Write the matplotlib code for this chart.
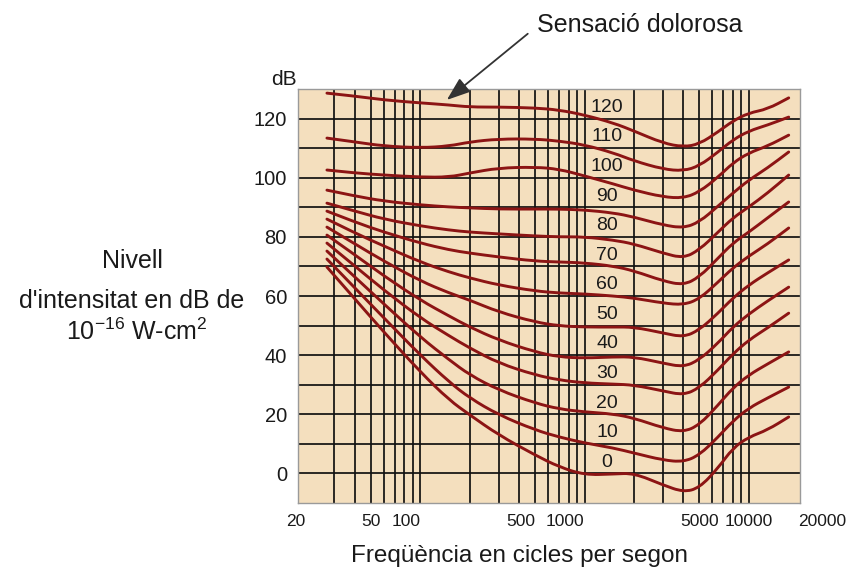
import numpy as np
import matplotlib
matplotlib.use("Agg")
import matplotlib.pyplot as plt
from matplotlib.path import Path
from matplotlib.patches import PathPatch

plt.rcParams['font.family'] = ['Liberation Sans', 'DejaVu Sans']
plt.rcParams['mathtext.default'] = 'regular'

freqs = [27, 40, 60, 100, 150, 200, 300, 500, 700, 1000, 1500, 2000,
         3000, 4000, 5000, 6500, 8000, 10000, 13000, 17500]

# intensity level (dB) of each curve, keyed by loudness level
levels = [0, 10, 20, 30, 40, 50, 60, 70, 80, 90, 100, 110, 120]
curve_0 = [69.8, 59.0, 47.8, 34.3, 24.8, 19.8, 13.0, 6.2, 2.2, -0.5, -0.2, 0.1,
           -3.9, -6.3, -4.9, 1.8, 8.6, 12.3, 14.7, 19.1]
curve_10 = [72.5, 62.7, 52.6, 40.0, 30.9, 25.5, 19.8, 14.7, 12.3, 10.3, 8.6, 6.9,
            4.5, 3.9, 6.2, 12.3, 17.7, 22.1, 25.5, 29.2]
curve_20 = [75.2, 66.4, 57.3, 46.1, 38.4, 33.3, 28.2, 23.8, 21.8, 20.8, 20.1, 18.7,
            15.4, 14.0, 16.4, 23.1, 28.9, 33.3, 37.0, 41.1]
curve_30 = [77.9, 70.1, 62.0, 52.6, 46.5, 42.4, 37.3, 33.3, 31.6, 30.6, 30.2, 29.9,
            27.9, 26.5, 28.9, 35.0, 40.4, 45.1, 49.2, 54.2]
curve_40 = [80.6, 73.9, 66.8, 58.6, 53.2, 49.5, 45.1, 41.1, 39.4, 39.0, 39.4, 39.4,
            37.3, 36.0, 38.4, 44.1, 49.5, 53.9, 58.3, 63.0]
curve_50 = [83.3, 77.6, 71.8, 65.1, 61.0, 58.6, 54.6, 51.2, 49.9, 49.5, 49.5, 49.5,
            47.5, 46.1, 48.5, 54.2, 59.3, 63.7, 67.8, 72.2]
curve_60 = [86.0, 81.3, 76.9, 71.5, 68.1, 66.1, 63.7, 61.7, 61.0, 60.7, 60.0, 59.3,
            57.6, 57.0, 59.0, 64.7, 69.5, 73.5, 77.6, 83.0]
curve_70 = [88.7, 85.0, 81.6, 77.9, 75.6, 74.5, 73.2, 71.8, 71.5, 71.2, 70.1, 68.5,
            65.1, 63.7, 66.4, 72.8, 77.9, 81.6, 86.4, 91.8]
curve_80 = [91.4, 88.7, 86.0, 83.7, 82.3, 81.6, 81.0, 80.3, 80.0, 80.0, 78.9, 77.6,
            74.5, 72.8, 75.6, 81.6, 86.4, 90.1, 94.8, 100.9]
curve_90 = [95.8, 93.8, 92.1, 90.8, 90.1, 89.8, 89.4, 89.4, 89.4, 89.1, 88.1, 86.7,
            84.0, 83.0, 85.0, 90.4, 94.8, 99.2, 103.3, 108.7]
curve_100 = [102.6, 101.6, 100.9, 100.2, 100.2, 101.6, 103.3, 103.6, 102.9, 100.6, 97.9, 95.8,
             93.5, 93.1, 95.2, 100.2, 105.0, 108.4, 110.7, 114.4]
curve_110 = [113.4, 112.1, 110.7, 110.1, 110.7, 112.1, 113.1, 113.1, 112.4, 111.1, 108.4, 105.7,
             102.9, 102.3, 104.0, 108.7, 112.8, 115.8, 117.8, 120.5]
curve_120 = [128.6, 127.6, 126.3, 125.3, 124.6, 123.9, 123.9, 123.6, 122.9, 121.2, 118.5, 115.8,
             111.7, 110.4, 111.4, 115.5, 119.2, 121.9, 123.2, 127.0]
curves = [curve_0, curve_10, curve_20, curve_30, curve_40, curve_50, curve_60,
          curve_70, curve_80, curve_90, curve_100, curve_110, curve_120]

x_ticks = [20, 50, 100, 500, 1000, 5000, 10000, 20000]
x_ticklabels = ['20', '50', '100', '500', '1000', '5000', '10000', '20000']
x_label_ha = ['right', 'center', 'right', 'right', 'right', 'center', 'center', 'left']
y_ticks = [0, 20, 40, 60, 80, 100, 120]

TXT = '#1a1a1a'


def smooth_path(xs, ys):
    # quadratic bezier through midpoints, so the hand-drawn curves look smooth
    pts = list(zip(xs, ys))
    verts = [pts[0]]
    codes = [Path.MOVETO]
    for i in range(1, len(pts) - 1):
        mid = ((pts[i][0] * pts[i + 1][0]) ** 0.5, (pts[i][1] + pts[i + 1][1]) / 2)
        verts += [pts[i], mid]
        codes += [Path.CURVE3, Path.CURVE3]
    verts.append(pts[-1])
    codes.append(Path.LINETO)
    return Path(verts, codes)


fig = plt.figure(figsize=(8.54, 5.69), dpi=100)
ax = fig.add_axes([298 / 854, 1 - 503 / 569, 502 / 854, 414 / 569])
ax.set_facecolor('#F4DFBE')
ax.set_xscale('log')
ax.set_xlim(18, 20500)
ax.set_ylim(-10, 130)

# grid drawn by hand so it reads like the printed chart
grid_f = [f * d for d in (10, 100, 1000) for f in range(1, 10)][2:] + [10000]
for f in grid_f:
    ax.axvline(f, color='#111111', lw=1.25, zorder=1)
for db in range(0, 130, 10):
    ax.axhline(db, color='#111111', lw=1.25, zorder=1)

for lev, vals in zip(levels, curves):
    ax.add_patch(PathPatch(smooth_path(freqs, vals), fill=False,
                           edgecolor='#8c1414', lw=2.1, capstyle='round',
                           joinstyle='round', zorder=3))
    ax.text(1370, lev + 3.8, str(lev), fontsize=14, color=TXT,
            ha='center', va='center', zorder=4)

ax.set_xticks(x_ticks)
ax.set_xticklabels(x_ticklabels)
for lab, ha in zip(ax.get_xticklabels(), x_label_ha):
    lab.set_ha(ha)
ax.xaxis.set_minor_locator(matplotlib.ticker.NullLocator())
ax.set_yticks(y_ticks)
ax.tick_params(axis='x', length=0, labelsize=12.5, pad=8, colors=TXT)
ax.tick_params(axis='y', length=0, labelsize=14.5, pad=8, colors=TXT)
for s in ax.spines.values():
    s.set_color('#9a9a9a')
    s.set_linewidth(1.0)

ax.text(-0.002, 1.01, 'dB', transform=ax.transAxes, fontsize=15,
        ha='right', va='baseline', color=TXT)

fig.text(520 / 854, 1 - 562 / 569, 'Freqüència en cicles per segon',
         fontsize=17.5, ha='center', va='baseline', color=TXT)
fig.text(132 / 854, 1 - 268 / 569, 'Nivell', fontsize=18,
         ha='center', va='baseline', color=TXT)
fig.text(132 / 854, 1 - 308 / 569, "d'intensitat en dB de", fontsize=18,
         ha='center', va='baseline', color=TXT)
fig.text(137 / 854, 1 - 340 / 569, '10$^{-16}$ W-cm$^{2}$', fontsize=18,
         ha='center', va='baseline', color=TXT)

ax.annotate('Sensació dolorosa', xy=(145, 126.3),
            xytext=(537, 569 - 32), textcoords='figure pixels',
            fontsize=18, ha='left', va='baseline', color=TXT,
            arrowprops=dict(arrowstyle='-|>,head_length=0.6,head_width=0.22',
                            color='#333333', lw=1.3, mutation_scale=24,
                            relpos=(0, 0.45), shrinkA=6, shrinkB=0))

fig.savefig('out.png', dpi=100)
